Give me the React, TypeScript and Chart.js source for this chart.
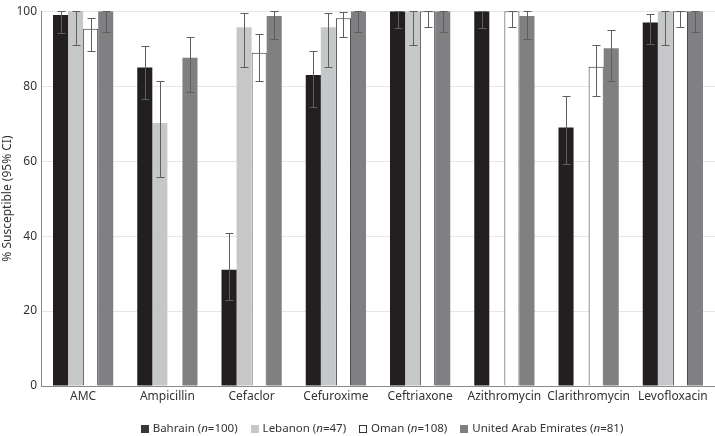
import React, { useEffect, useRef } from "react";
import { Chart, registerables } from "chart.js";
Chart.register(...registerables);

const categories = ["AMC", "Ampicillin", "Cefaclor", "Cefuroxime", "Ceftriaxone", "Azithromycin", "Clarithromycin", "Levofloxacin"];
const yTicks = [0, 20, 40, 60, 80, 100];

const bahrain = [99, 85, 31, 83, 100, 100, 69, 97];
const bahrainLo = [94.2, 76.5, 22.9, 74.5, 95.6, 95.6, 59.3, 91.2];
const bahrainHi = [100, 90.8, 40.8, 89.3, 100, 100, 77.3, 99.3];

const lebanon = [100, 70.2, 95.7, 95.7, 100, null, null, 100];
const lebanonLo = [91.0, 55.8, 85.2, 85.2, 91.0, null, null, 91.0];
const lebanonHi = [100, 81.4, 99.5, 99.5, 100, null, null, 100];

const oman = [95.3, null, 88.9, 98.1, 100, 100, 85.2, 100];
const omanLo = [89.3, null, 81.5, 93.0, 95.8, 95.8, 77.3, 95.8];
const omanHi = [98.2, null, 93.8, 99.9, 100, 100, 90.9, 100];

const uae = [100, 87.6, 98.7, 100, 100, 98.7, 90.1, 100];
const uaeLo = [94.4, 78.4, 92.7, 94.4, 94.4, 92.7, 81.5, 94.4];
const uaeHi = [100, 93.1, 100, 100, 100, 100, 95.0, 100];

const legendItems = [
  { name: "Bahrain", n: "100", fill: "#3a3738", stroke: "#3a3738" },
  { name: "Lebanon", n: "47", fill: "#c6c7c8", stroke: "#c6c7c8" },
  { name: "Oman", n: "108", fill: "#ffffff", stroke: "#333333" },
  { name: "United Arab Emirates", n: "81", fill: "#808083", stroke: "#808083" },
];

const FONT = "'Noto Sans', 'Open Sans', sans-serif";
const TEXT = "#333333";

export default function App() {
  const ref = useRef<HTMLCanvasElement | null>(null);
  useEffect(() => {
    if (!ref.current) return;
    const lows = [bahrainLo, lebanonLo, omanLo, uaeLo];
    const highs = [bahrainHi, lebanonHi, omanHi, uaeHi];

    const errorBars = {
      id: "errorBars",
      afterDatasetsDraw(chart: any) {
        const ctx = chart.ctx;
        const ys = chart.scales.y;
        ctx.save();
        ctx.strokeStyle = "#5e5e5e";
        ctx.lineWidth = 1;
        chart.data.datasets.forEach((_ds: any, i: number) => {
          const meta = chart.getDatasetMeta(i);
          meta.data.forEach((bar: any, j: number) => {
            const lo = lows[i][j];
            const hi = highs[i][j];
            if (lo == null || hi == null) return;
            const x = Math.round(bar.x) + 0.5;
            const y1 = Math.round(ys.getPixelForValue(lo)) + 0.5;
            const y2 = Math.round(ys.getPixelForValue(hi)) + 0.5;
            ctx.beginPath();
            ctx.moveTo(x, y1);
            ctx.lineTo(x, y2);
            ctx.moveTo(x - 4, y1);
            ctx.lineTo(x + 4, y1);
            ctx.moveTo(x - 4, y2);
            ctx.lineTo(x + 4, y2);
            ctx.stroke();
          });
        });
        ctx.restore();
      },
    };

    const customLegend = {
      id: "customLegend",
      afterDraw(chart: any) {
        const ctx = chart.ctx;
        ctx.save();
        const size = 11.5;
        const normal = `${size}px ${FONT}`;
        const italic = `italic ${size}px ${FONT}`;
        const box = 8;
        const gapBox = 4;
        const gapItem = 13;
        const parts = legendItems.map((it) => [
          { t: it.name + " (", f: normal },
          { t: "n", f: italic },
          { t: "=" + it.n + ")", f: normal },
        ]);
        const widths = parts.map((p) =>
          p.reduce((s, seg) => {
            ctx.font = seg.f;
            return s + ctx.measureText(seg.t).width;
          }, 0)
        );
        const total = widths.reduce((s, w) => s + box + gapBox + w, 0) + gapItem * (legendItems.length - 1);
        const ca = chart.chartArea;
        let x = (ca.left + ca.right) / 2 + 4 - total / 2;
        const y = 429;
        ctx.textBaseline = "middle";
        legendItems.forEach((it, k) => {
          const bx = Math.round(x);
          const by = Math.round(y - box / 2);
          ctx.fillStyle = it.fill;
          ctx.fillRect(bx, by, box, box);
          if (it.fill === "#ffffff") {
            ctx.strokeStyle = it.stroke;
            ctx.lineWidth = 1;
            ctx.strokeRect(bx + 0.5, by + 0.5, box - 1, box - 1);
          }
          x += box + gapBox;
          ctx.fillStyle = TEXT;
          parts[k].forEach((seg) => {
            ctx.font = seg.f;
            ctx.fillText(seg.t, x, y);
            x += ctx.measureText(seg.t).width;
          });
          x += gapItem;
        });
        ctx.restore();
      },
    };

    const mk = (label: string, data: any[], fill: string, border: string, bw: number) => ({
      label,
      data,
      backgroundColor: fill,
      borderColor: border,
      borderWidth: bw,
      categoryPercentage: 0.715,
      barPercentage: 1.0,
    });

    const chart = new Chart(ref.current, {
      type: "bar",
      data: {
        labels: categories,
        datasets: [
          mk("Bahrain", bahrain, "#231f20", "#231f20", 0),
          mk("Lebanon", lebanon, "#c6c7c8", "#c6c7c8", 0),
          mk("Oman", oman, "#ffffff", "#333333", 1),
          mk("United Arab Emirates", uae, "#808083", "#808083", 0),
        ],
      },
      options: {
        animation: false,
        responsive: true,
        maintainAspectRatio: false,
        layout: { padding: { top: 5, right: 0, left: 0, bottom: 30 } },
        plugins: {
          legend: { display: false },
          tooltip: { enabled: false },
        },
        scales: {
          x: {
            grid: { display: false, drawTicks: false },
            border: { display: true, color: "#8a8a8a" },
            ticks: { color: TEXT, font: { family: FONT, size: 12 }, padding: 3, maxRotation: 0, autoSkip: false },
            afterFit(scale: any) {
              scale.height = 20;
            },
          },
          y: {
            min: 0,
            max: 100,
            afterBuildTicks(scale: any) {
              scale.ticks = yTicks.map((v) => ({ value: v }));
            },
            grid: { color: "#e6e6e6", drawTicks: false },
            border: { display: true, color: "#8a8a8a" },
            ticks: { color: TEXT, font: { family: FONT, size: 12 }, padding: 4 },
            title: {
              display: true,
              text: "% Susceptible (95% CI)",
              color: TEXT,
              font: { family: FONT, size: 12 },
              padding: { top: 0, bottom: 0 },
            },
            afterFit(scale: any) {
              scale.width = 41;
            },
          },
        },
      },
      plugins: [errorBars, customLegend],
    });
    return () => chart.destroy();
  }, []);

  return (
    <div style={{ position: "fixed", left: 0, top: 0, width: 715, height: 436, background: "#fff" }}>
      <canvas ref={ref} />
    </div>
  );
}
